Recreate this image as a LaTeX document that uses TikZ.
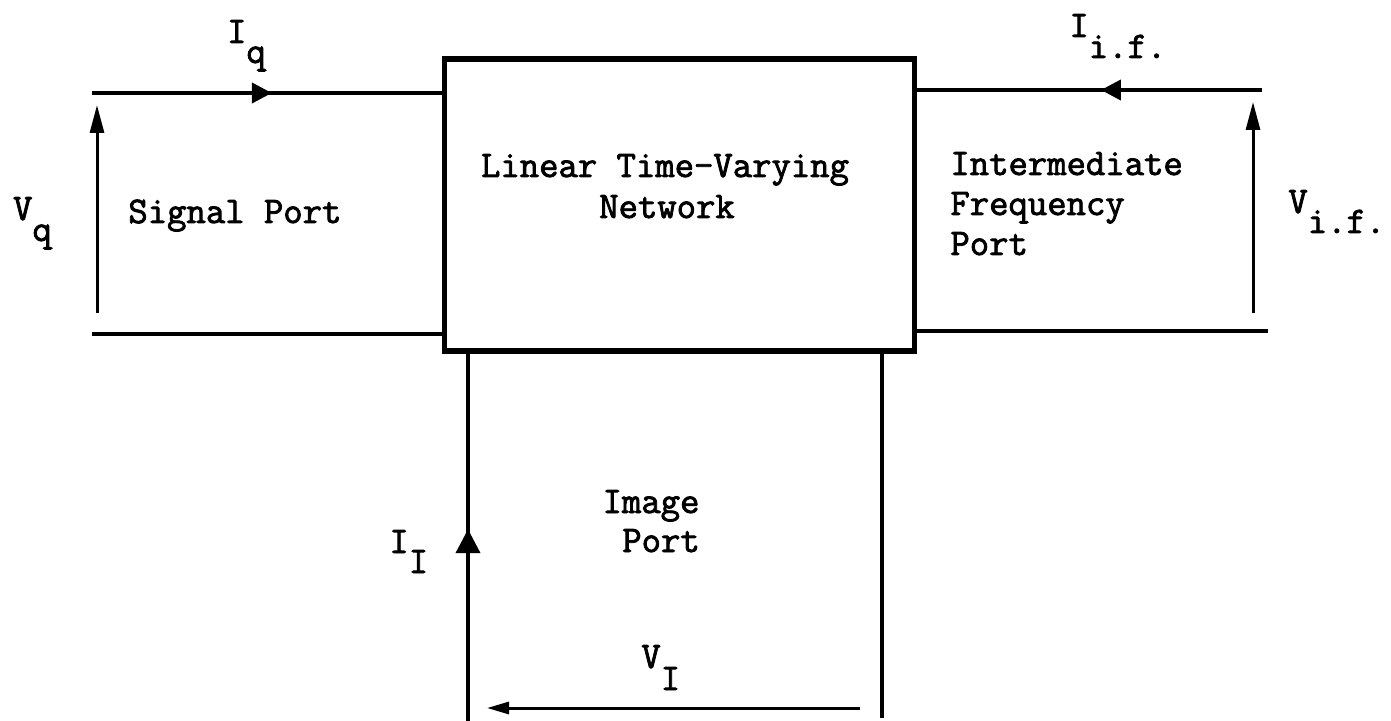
\documentclass[tikz,border=0pt]{standalone}
\usepackage{fontspec}
\newfontfamily\twfont{Latin Modern Mono}[FakeBold=2.2]
\usetikzlibrary{arrows.meta,decorations.markings}
\begin{document}
\begin{tikzpicture}[x=0.5pt,y=-0.5pt,
  wire/.style={line width=2pt},
  boxst/.style={draw,line width=2.6pt,minimum width=235pt,minimum height=146pt,inner sep=0pt},
  txt/.style={font=\twfont\fontsize{18.8}{20.5}\selectfont,inner sep=0pt,anchor=base west},
  ctxt/.style={txt,anchor=base},
  midarrow/.style={postaction={decorate},decoration={markings,mark=at position #1 with {\arrow{Triangle[length=10pt,width=10pt]}}}},
  bigarrow/.style={postaction={decorate},decoration={markings,mark=at position #1 with {\arrow{Triangle[length=12pt,width=12pt]}}}},
  varrow/.style={line width=1.5pt,-{Triangle[length=14pt,width=7pt]}},
  harrow/.style={line width=1.5pt,-{Triangle[length=11pt,width=6pt]}}
]
\useasboundingbox (0,0) rectangle (1391,721);

% main network box
\node[boxst] (net) at (679.5,205) {};
\node[ctxt] (lin) at (665,177) {Linear Time-Varying};
\node[ctxt] (netw) at (667,218) {Network};

% signal port
\coordinate (sigT) at (92,93);
\coordinate (sigB) at (92,334);
\draw[wire,midarrow=0.514] (sigT) -- (sigT -| net.west);
\draw[wire] (sigB) -- (sigB -| net.west);
\coordinate (vqB) at (97,313);
\coordinate (vqT) at (97,105);
\draw[varrow] (vqB) -- (vqT);
\node[txt] (sig) at (128,223) {Signal Port};
\node[txt] (Iq) at (226.7,43) {I\raisebox{-10pt}{q}};
\node[txt] (Vq) at (12.7,220) {V\raisebox{-10.5pt}{q}};

% intermediate frequency port
\coordinate (ifT) at (1262,90);
\coordinate (ifB) at (1268,331);
\draw[wire,midarrow=0.467] (ifT) -- (ifT -| net.east);
\draw[wire] (ifB) -- (ifB -| net.east);
\coordinate (vifB) at (1253,313);
\coordinate (vifT) at (1253,102);
\draw[varrow] (vifB) -- (vifT);
\node[txt] (if1) at (950,175) {Intermediate};
\node[txt] (if2) at (950,215) {Frequency};
\node[txt] (if3) at (950,255) {Port};
\node[txt] (Iif) at (1069,37) {I\raisebox{-10.5pt}{i.f.}};
\node[txt] (Vif) at (1288,213) {V\raisebox{-10pt}{i.f.}};

% image port
\coordinate (imL) at (468,721);
\coordinate (imR) at (882,718);
\draw[wire,bigarrow=0.522] (imL) -- (imL |- net.south);
\draw[wire] (imR) -- (imR |- net.south);
\coordinate (viR) at (860,708);
\coordinate (viL) at (487,708);
\draw[harrow] (viR) -- (viL);
\node[ctxt] (img1) at (651,513) {Image};
\node[ctxt] (img2) at (661,552) {Port};
\node[txt] (II) at (389,553) {I\raisebox{-10pt}{I}};
\node[txt] (VI) at (641,668) {V\raisebox{-11pt}{I}};
\end{tikzpicture}
\end{document}
